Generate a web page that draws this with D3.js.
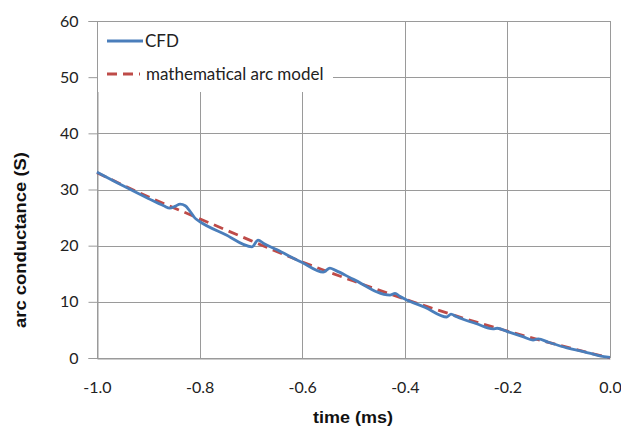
<!DOCTYPE html>
<html>
<head>
<meta charset="utf-8">
<script src="https://cdn.jsdelivr.net/npm/d3@7"></script>
<style>
  body { margin: 0; background: #fff; }
  svg { display: block; }
</style>
</head>
<body>
<div id="chart"></div>
<script>
// data
const timeTicks = [-1.0, -0.8, -0.6, -0.4, -0.2, 0.0];
const condTicks = [0, 10, 20, 30, 40, 50, 60];

const cfdTime = [-1.000, -0.950, -0.900, -0.870, -0.858, -0.848, -0.838, -0.828, -0.820, -0.809,
                 -0.800, -0.750, -0.698, -0.686, -0.675, -0.650, -0.600, -0.559, -0.546, -0.535,
                 -0.500, -0.429, -0.419, -0.410, -0.400, -0.360, -0.318, -0.310, -0.300, -0.260,
                 -0.228, -0.220, -0.200, -0.170, -0.150, -0.140, -0.120, -0.084, -0.050, -0.020, 0.000];
const cfdG = [33.1, 30.7, 28.4, 27.1, 26.7, 27.0, 27.4, 27.1, 26.3, 24.9,
              24.3, 22.0, 19.8, 21.0, 20.4, 19.3, 17.0, 15.3, 16.0, 15.6,
              14.0, 11.2, 11.5, 11.0, 10.5, 9.0, 7.3, 7.8, 7.4, 6.1,
              5.2, 5.3, 4.7, 3.8, 3.2, 3.4, 2.8, 1.8, 1.1, 0.4, 0.1];

const modelTime = [-1.0, -0.9, -0.8, -0.7, -0.6, -0.5, -0.4, -0.3, -0.2, -0.1, 0.0];
const modelG = [33.0, 28.7, 24.8, 20.9, 17.1, 13.7, 10.5, 7.5, 4.8, 2.3, 0.0];

const seriesNames = ["CFD", "mathematical arc model"];

// canvas
const W = 621, H = 429;
const margins = { top: 21, right: 11, bottom: 71, left: 97 };
const width = W - margins.left - margins.right;
const height = H - margins.top - margins.bottom;

const svg = d3.select("#chart").append("svg")
    .attr("width", W)
    .attr("height", H);

const g = svg.append("g")
    .attr("transform", "translate(" + margins.left + "," + margins.top + ")");

const xScale = d3.scaleLinear().domain([-1, 0]).range([0, width]);
const yScale = d3.scaleLinear().domain([0, 60]).range([height, 0]);

const gridColor = "#9a9a9a";
const tickFont = "Lato, 'Open Sans', sans-serif";

// gridlines
g.append("g")
    .selectAll("line")
    .data(condTicks)
    .enter().append("line")
    .attr("x1", 0).attr("x2", width)
    .attr("y1", d => Math.round(yScale(d)) + 0.5)
    .attr("y2", d => Math.round(yScale(d)) + 0.5)
    .attr("stroke", gridColor);

g.append("g")
    .selectAll("line")
    .data(timeTicks)
    .enter().append("line")
    .attr("x1", d => Math.round(xScale(d)) + 0.5)
    .attr("x2", d => Math.round(xScale(d)) + 0.5)
    .attr("y1", 0).attr("y2", height)
    .attr("stroke", gridColor);

// y axis with outside ticks
const yAxis = g.append("g")
    .attr("transform", "translate(0.5,0)")
    .call(d3.axisLeft(yScale).tickValues(condTicks).tickSize(9).tickPadding(10).tickFormat(d => String(d)));
yAxis.select(".domain").attr("stroke", gridColor);
yAxis.selectAll(".tick line").attr("stroke", gridColor);
yAxis.selectAll(".tick text")
    .style("font-family", tickFont)
    .style("font-size", "16px")
    .attr("fill", "#222");

// x axis, labels with a plain hyphen like the original
const xAxis = g.append("g")
    .attr("transform", "translate(0," + (height + 0.5) + ")")
    .call(d3.axisBottom(xScale).tickValues(timeTicks).tickSize(0).tickPadding(23).tickFormat(d => d.toFixed(1)));
xAxis.select(".domain").attr("stroke", gridColor);
xAxis.selectAll(".tick text")
    .style("font-family", tickFont)
    .style("font-size", "16px")
    .attr("fill", "#222");

// legend box hides the grid behind it
g.append("rect")
    .attr("x", 1).attr("y", 1)
    .attr("width", 235).attr("height", 70)
    .attr("fill", "#fff");

// lines
const line = d3.line()
    .x(d => xScale(d[0]))
    .y(d => yScale(d[1]))
    .curve(d3.curveMonotoneX);

g.append("path")
    .datum(modelTime.map((t, i) => [t, modelG[i]]))
    .attr("d", line)
    .attr("fill", "none")
    .attr("stroke", "#be4b48")
    .attr("stroke-width", 2.8)
    .attr("stroke-dasharray", "10,6");

g.append("path")
    .datum(cfdTime.map((t, i) => [t, cfdG[i]]))
    .attr("d", line)
    .attr("fill", "none")
    .attr("stroke", "#4a7ebb")
    .attr("stroke-width", 2.8);

// legend
const legend = svg.append("g");
legend.append("line")
    .attr("x1", 107).attr("x2", 143).attr("y1", 41).attr("y2", 41)
    .attr("stroke", "#4a7ebb").attr("stroke-width", 2.8);
legend.append("line")
    .attr("x1", 107).attr("x2", 140).attr("y1", 74).attr("y2", 74)
    .attr("stroke", "#be4b48").attr("stroke-width", 2.8)
    .attr("stroke-dasharray", "10,6");
legend.append("text")
    .attr("x", 145).attr("y", 47)
    .style("font-family", tickFont)
    .style("font-size", "17px")
    .attr("fill", "#222")
    .text(seriesNames[0]);
legend.append("text")
    .attr("x", 146).attr("y", 80)
    .style("font-family", tickFont)
    .style("font-size", "17px")
    .attr("fill", "#222")
    .text(seriesNames[1]);

// plot border top/right
g.append("path")
    .attr("d", "M0.5,0.5H" + (width + 0.5) + "V" + height)
    .attr("fill", "none")
    .attr("stroke", gridColor);

// axis titles
svg.append("text")
    .attr("x", 353)
    .attr("y", 423)
    .style("text-anchor", "middle")
    .style("font-family", "'Liberation Sans', Arial, sans-serif")
    .style("font-weight", "bold")
    .style("font-size", "17px")
    .attr("textLength", 80)
    .attr("lengthAdjust", "spacingAndGlyphs")
    .attr("fill", "#111")
    .text("time (ms)");

svg.append("text")
    .attr("transform", "translate(26,240) rotate(-90)")
    .style("text-anchor", "middle")
    .style("font-family", "'Liberation Sans', Arial, sans-serif")
    .style("font-weight", "bold")
    .style("font-size", "17px")
    .attr("textLength", 176)
    .attr("lengthAdjust", "spacingAndGlyphs")
    .attr("fill", "#111")
    .text("arc conductance (S)");
</script>
</body>
</html>
